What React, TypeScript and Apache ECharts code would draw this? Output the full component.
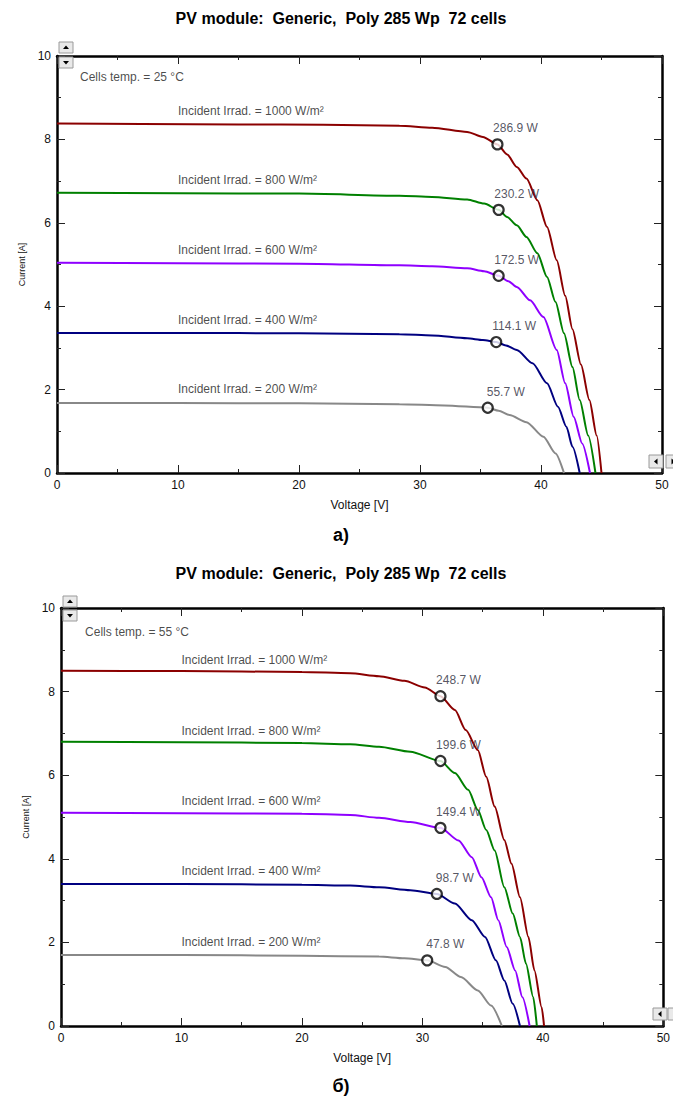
import React, { useEffect, useRef } from "react";
import * as echarts from "echarts";

// ---------- data ----------
const TITLE = "PV module:  Generic,  Poly 285 Wp  72 cells";
const xTicks = [0, 10, 20, 30, 40, 50];
const yTicks = [0, 2, 4, 6, 8, 10];
const irradLabels = [
  "Incident Irrad. = 1000 W/m²",
  "Incident Irrad. = 800 W/m²",
  "Incident Irrad. = 600 W/m²",
  "Incident Irrad. = 400 W/m²",
  "Incident Irrad. = 200 W/m²",
];
const curveColors = ["#8b0000", "#008000", "#8f00ff", "#000080", "#888888"];

// Chart a) cells temp 25 °C
const a1000 = [[0, 8.38], [7, 8.37], [15, 8.36], [22, 8.35], [28.3, 8.33], [31, 8.28], [33.9, 8.18], [35.2, 8.06], [36.4, 7.88], [37.2, 7.64], [38.0, 7.34], [38.8, 7.06], [39.7, 6.54], [40.5, 5.9], [41.3, 5.1], [42.0, 4.25], [42.6, 3.45], [43.3, 2.6], [44.0, 1.75], [44.6, 0.9], [45.0, 0]];
const a800 = [[0, 6.72], [10, 6.71], [20, 6.7], [28.3, 6.65], [31, 6.62], [33.9, 6.56], [35.3, 6.46], [36.5, 6.31], [37.2, 6.14], [38.0, 5.94], [38.8, 5.66], [39.7, 5.27], [40.5, 4.7], [41.2, 4.1], [41.9, 3.35], [42.6, 2.54], [43.2, 1.75], [43.9, 0.9], [44.5, 0]];
const a600 = [[0, 5.04], [10, 5.03], [20, 5.02], [28.3, 4.98], [31, 4.96], [33.9, 4.91], [35.3, 4.84], [36.5, 4.73], [37.3, 4.6], [38.0, 4.46], [39.1, 4.14], [40.2, 3.74], [41.3, 2.95], [42.0, 2.15], [42.7, 1.35], [43.4, 0.71], [44.05, 0]];
const a400 = [[0, 3.36], [10, 3.36], [20, 3.35], [28.3, 3.33], [31, 3.3], [33.9, 3.23], [35.2, 3.19], [36.3, 3.14], [37.1, 3.06], [38.0, 2.95], [39.3, 2.63], [40.5, 2.15], [41.4, 1.59], [42.1, 1.11], [42.6, 0.63], [43.2, 0]];
const a200 = [[0, 1.68], [10, 1.68], [20, 1.67], [28.3, 1.65], [32, 1.62], [35.6, 1.565], [36.5, 1.49], [37.4, 1.39], [38.8, 1.22], [40.2, 0.87], [41.2, 0.47], [41.9, 0]];
const aMpp = [[36.4, 7.88], [36.5, 6.31], [36.5, 4.73], [36.3, 3.14], [35.6, 1.565]];
const aMppLabels = ["286.9 W", "230.2 W", "172.5 W", "114.1 W", "55.7 W"];
const aIrradLabelPos = [[10, 8.69], [10, 7.02], [10, 5.34], [10, 3.66], [10, 2.01]];
const aTempLabel = "Cells temp. = 25 °C";
const aTempPos = [1.9, 9.49];

// Chart б) cells temp 55 °C
const b1000 = [[0, 8.5], [10, 8.49], [20, 8.47], [24, 8.44], [26.4, 8.37], [28.5, 8.26], [30.2, 8.1], [31.5, 7.89], [32.7, 7.56], [33.6, 7.08], [34.6, 6.6], [35.3, 5.96], [36.0, 5.25], [36.8, 4.45], [37.4, 3.88], [38.1, 3.08], [38.8, 2.13], [39.3, 1.33], [39.9, 0.45], [40.1, 0]];
const b800 = [[0, 6.8], [10, 6.79], [20, 6.77], [24, 6.74], [26.4, 6.68], [29, 6.56], [31.5, 6.34], [32.7, 6.05], [33.8, 5.65], [34.6, 5.17], [35.3, 4.69], [36.0, 4.2], [36.8, 3.32], [37.5, 2.69], [38.1, 2.13], [38.6, 1.49], [39.2, 0.69], [39.5, 0]];
const b600 = [[0, 5.1], [10, 5.09], [20, 5.08], [24, 5.05], [26.4, 4.98], [29, 4.88], [31.5, 4.74], [33.0, 4.44], [34.1, 4.04], [34.9, 3.56], [35.7, 3.08], [36.3, 2.53], [37.0, 1.89], [37.7, 1.33], [38.3, 0.69], [38.9, 0]];
const b400 = [[0, 3.4], [10, 3.4], [20, 3.38], [24, 3.36], [26.4, 3.32], [29, 3.25], [31.2, 3.16], [32.7, 2.93], [34.1, 2.53], [35.2, 2.13], [36.1, 1.57], [36.8, 1.09], [37.5, 0.53], [38.1, 0]];
const b200 = [[0, 1.7], [10, 1.7], [20, 1.68], [26.4, 1.66], [28.5, 1.62], [30.4, 1.57], [31.9, 1.41], [33.2, 1.17], [34.6, 0.85], [35.7, 0.49], [36.6, 0]];
const bMpp = [[31.5, 7.89], [31.5, 6.34], [31.5, 4.74], [31.2, 3.16], [30.4, 1.57]];
const bMppLabels = ["248.7 W", "199.6 W", "149.4 W", "98.7 W", "47.8 W"];
const bIrradLabelPos = [[10, 8.75], [10, 7.05], [10, 5.38], [10, 3.71], [10, 2.0]];
const bTempLabel = "Cells temp. = 55 °C";
const bTempPos = [2.0, 9.43];

const FONT = '"Liberation Sans", Arial, sans-serif';
const W = 673;
const H = 1102;

const grids = [
  { left: 57, top: 56, width: 605, height: 417 },
  { left: 61, top: 608, width: 605, height: 418 },
];

function xAxes(gi: number) {
  const common = {
    type: "value",
    gridIndex: gi,
    min: xTicks[0],
    max: xTicks[xTicks.length - 1],
    interval: xTicks[1] - xTicks[0],
    splitLine: { show: false },
    axisLine: { show: true, onZero: false, lineStyle: { color: "#000", width: 2.5 } },
    axisTick: { show: true, inside: true, length: 8, lineStyle: { color: "#222", width: 1 } },
    minorTick: { show: true, splitNumber: 2, length: 4, lineStyle: { color: "#222", width: 1 } },
  };
  return [
    {
      ...common,
      position: "bottom",
      axisLabel: { color: "#111", fontSize: 12, margin: 6, fontFamily: FONT },
      name: "Voltage [V]",
      nameLocation: "middle",
      nameGap: 26,
      nameTextStyle: { color: "#111", fontSize: 12, fontFamily: FONT },
    },
    { ...common, position: "top", axisLabel: { show: false } },
  ];
}

function yAxes(gi: number) {
  const common = {
    type: "value",
    gridIndex: gi,
    min: yTicks[0],
    max: yTicks[yTicks.length - 1],
    interval: yTicks[1] - yTicks[0],
    splitLine: { show: false },
    axisLine: { show: true, onZero: false, lineStyle: { color: "#000", width: 2.5 } },
    axisTick: { show: true, inside: true, length: 8, lineStyle: { color: "#222", width: 1 } },
    minorTick: { show: true, splitNumber: 2, length: 4, lineStyle: { color: "#222", width: 1 } },
  };
  return [
    {
      ...common,
      position: "left",
      axisLabel: { color: "#111", fontSize: 12, margin: 6, fontFamily: FONT },
      name: "Current [A]",
      nameLocation: "middle",
      nameGap: 31,
      nameTextStyle: { color: "#111", fontSize: 9, fontFamily: FONT },
    },
    { ...common, position: "right", axisLabel: { show: false } },
  ];
}

function chartSeries(
  gi: number,
  curves: number[][][],
  mpp: number[][],
  mppLabels: string[],
  irradPos: number[][],
  tempLabel: string,
  tempPos: number[]
) {
  const xi = gi * 2;
  const yi = gi * 2;
  const out: any[] = [];
  curves.forEach((c, k) => {
    out.push({
      type: "line",
      xAxisIndex: xi,
      yAxisIndex: yi,
      data: c,
      showSymbol: false,
      symbol: "none",
      smooth: 0.25,
      smoothMonotone: "x",
      lineStyle: { color: curveColors[k], width: 2 },
      z: 2,
    });
  });
  out.push({
    type: "scatter",
    xAxisIndex: xi,
    yAxisIndex: yi,
    symbol: "circle",
    symbolSize: 10,
    itemStyle: { color: "#fff", borderColor: "#000", borderWidth: 2.2 },
    data: mpp.map((p, k) => ({ value: p, name: mppLabels[k] })),
    label: {
      show: true,
      formatter: "{b}",
      position: "top",
      distance: 4,
      offset: [18, 0],
      color: "#2a2a3a",
      fontSize: 12,
      fontFamily: FONT,
    },
    z: 5,
  });
  out.push({
    type: "scatter",
    xAxisIndex: xi,
    yAxisIndex: yi,
    symbolSize: 0,
    data: irradPos.map((p, k) => ({ value: p, name: irradLabels[k] })),
    label: {
      show: true,
      formatter: "{b}",
      position: "right",
      distance: 0,
      color: "#1a1a1a",
      fontSize: 12,
      fontFamily: FONT,
    },
    z: 4,
  });
  out.push({
    type: "scatter",
    xAxisIndex: xi,
    yAxisIndex: yi,
    symbolSize: 0,
    data: [{ value: tempPos, name: tempLabel }],
    label: {
      show: true,
      formatter: "{b}",
      position: "right",
      distance: 0,
      color: "#1a1a1a",
      fontSize: 12,
      fontFamily: FONT,
    },
    z: 4,
  });
  return out;
}

function button(x: number, y: number, w: number, h: number, dir: string) {
  const cx = x + w / 2;
  const cy = y + h / 2;
  let pts: number[][];
  if (dir === "up") pts = [[cx - 3, cy + 1.5], [cx + 3, cy + 1.5], [cx, cy - 2]];
  else if (dir === "down") pts = [[cx - 3, cy - 1.5], [cx + 3, cy - 1.5], [cx, cy + 2]];
  else if (dir === "left") pts = [[cx + 1.5, cy - 3], [cx + 1.5, cy + 3], [cx - 2, cy]];
  else pts = [[cx - 1.5, cy - 3], [cx - 1.5, cy + 3], [cx + 2, cy]];
  return [
    { type: "rect", shape: { x, y, width: w, height: h }, style: { fill: "#e9e9e9", stroke: "#9a9a9a", lineWidth: 1 }, z: 100 },
    { type: "polygon", shape: { points: pts }, style: { fill: "#000" }, z: 101 },
  ];
}

function text(x: number, y: number, t: string, font: string) {
  return {
    type: "text",
    x,
    y,
    z: 100,
    style: { text: t, font, fill: "#000", textAlign: "center", textVerticalAlign: "middle", align: "center", verticalAlign: "middle" },
  };
}

export default function App() {
  const ref = useRef<HTMLDivElement>(null);
  useEffect(() => {
    if (!ref.current) return;
    const chart = echarts.init(ref.current, undefined, { renderer: "svg", width: W, height: H });
    const option: any = {
      animation: false,
      backgroundColor: "#fff",
      textStyle: { fontFamily: FONT },
      grid: grids.map((g) => ({ ...g, containLabel: false })),
      xAxis: [...xAxes(0), ...xAxes(1)],
      yAxis: [...yAxes(0), ...yAxes(1)],
      series: [
        ...chartSeries(0, [a1000, a800, a600, a400, a200], aMpp, aMppLabels, aIrradLabelPos, aTempLabel, aTempPos),
        ...chartSeries(1, [b1000, b800, b600, b400, b200], bMpp, bMppLabels, bIrradLabelPos, bTempLabel, bTempPos),
      ],
      graphic: [
        text(341, 18, TITLE, `bold 16px ${FONT}`),
        text(341, 573, TITLE, `bold 16px ${FONT}`),
        text(341, 535, "a)", `bold 18px ${FONT}`),
        text(341, 1086, "б)", `bold 18px ${FONT}`),
        ...button(59, 42, 14, 11, "up"),
        ...button(59, 57, 14, 11, "down"),
        ...button(649, 455, 14, 13, "left"),
        ...button(666, 455, 14, 13, "right"),
        ...button(63, 596, 14, 11, "up"),
        ...button(63, 610, 14, 11, "down"),
        ...button(653, 1008, 14, 12, "left"),
        ...button(668, 1008, 14, 12, "right"),
      ],
    };
    chart.setOption(option);
    return () => chart.dispose();
  }, []);
  return (
    <div
      ref={ref}
      style={{ position: "absolute", left: 0, top: 0, width: W, height: H, background: "#fff" }}
    />
  );
}
